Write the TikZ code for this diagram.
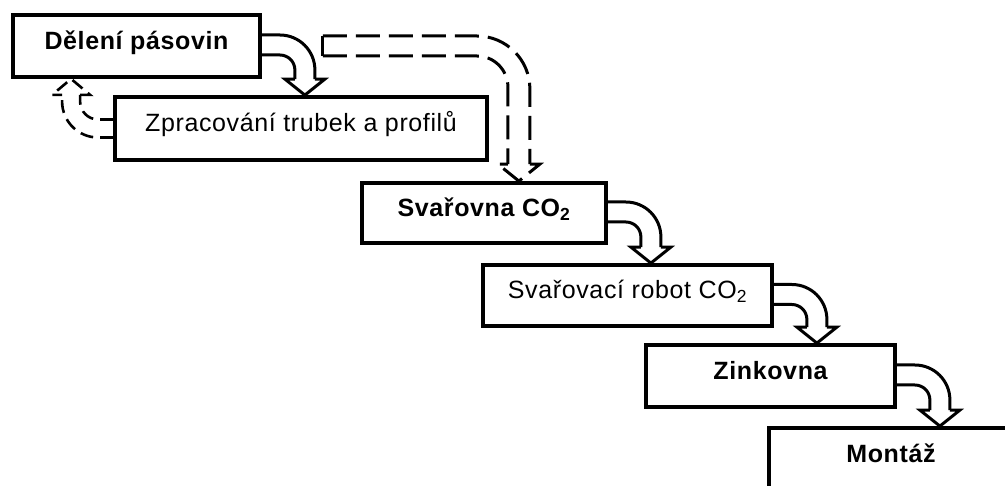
\documentclass[tikz,border=0pt]{standalone}
\usepackage{fontspec}
\newfontfamily\boxfont[LetterSpace=2.5]{Liberation Sans}
\usetikzlibrary{calc}
\newcommand\solidarrow[2]{%
  \coordinate (sa-c) at ($(#1.east)+(43,-1)$);
  \coordinate (sa-t) at (sa-c |- #2.north);
  \coordinate (sa-b) at ($(sa-t)+(0,-16)$);
  \draw[flow,rounded corners=15pt] ($(#1.east)+(0,9)$) -| ($(sa-b)+(-10,0)$);
  \draw[flow,rounded corners=35pt] ($(#1.east)+(0,-11)$) -| ($(sa-b)+(10,0)$);
  \draw[flow] ($(sa-b)+(-10,0)$) -- ($(sa-b)+(-20,0)$) -- (sa-t) -- ($(sa-b)+(20,0)$) -- ($(sa-b)+(10,0)$);
}
\begin{document}
\begin{tikzpicture}[x=1pt,y=-1pt,
  box/.style={draw,line width=3.8pt,inner sep=0pt,
    font=\boxfont\fontsize{25}{28}\selectfont,text height=18pt,text depth=11pt},
  bbox/.style={box,font=\boxfont\bfseries\fontsize{25}{28}\selectfont},
  flow/.style={line width=3pt},
  bigdash/.style={line width=3pt,dash pattern=on 24pt off 9pt},
  smalldash/.style={line width=2.6pt,dash pattern=on 13pt off 7pt}]
\useasboundingbox (0,0) rectangle (1005,486);
\clip (0,0) rectangle (1005,486);
\fill[white] (0,0) rectangle (1005,486);
\node[bbox,minimum width=247pt,minimum height=62pt] (b1) at (136.5,46) {Dělení pásovin};
\node[box,minimum width=372pt,minimum height=63pt] (b2) at (301,128.5) {Zpracování trubek a profilů};
\node[bbox,minimum width=244pt,minimum height=60pt] (b3) at (484,213) {Svařovna CO\textsubscript{2}};
\node[box,minimum width=289pt,minimum height=61pt] (b4) at (627.5,295.5) {Svařovací robot CO\textsubscript{2}};
\node[bbox,minimum width=249pt,minimum height=62pt] (b5) at (770.5,376) {Zinkovna};
\node[bbox,minimum width=244pt,minimum height=62pt] (b6) at (891,459) {Montáž};
\solidarrow{b1}{b2}
\solidarrow{b3}{b4}
\solidarrow{b4}{b5}
\solidarrow{b5}{b6}
% big dashed arrow b1 -> b3
\coordinate (da-s) at ($(b1.east)+(61,0)$);
\coordinate (da-c) at ($(b1.east)+(257,0)$);
\coordinate (da-t) at (da-c |- b3.north);
\coordinate (da-b) at ($(da-t)+(0,-17)$);
\draw[bigdash,rounded corners=53pt] ($(da-s)+(0,-10)$) -| ($(da-b)+(11,0)$);
\draw[bigdash,rounded corners=31pt] ($(da-s)+(0,10)$) -| ($(da-b)+(-11,0)$);
\draw[bigdash] ($(da-b)+(11,0)$) -- ($(da-b)+(21,0)$) -- (da-t) -- ($(da-b)+(-21,0)$) -- ($(da-b)+(-11,0)$);
\draw[flow] ($(da-s)+(0,-10)$) -- ($(da-s)+(0,10)$);
% small dashed arrow b2 -> b1
\coordinate (la-c) at ($(b2.west)+(-42,0)$);
\coordinate (la-t) at (la-c |- b1.south);
\coordinate (la-b) at ($(la-t)+(0,16)$);
\draw[smalldash,rounded corners=18pt] ($(b2.west)+(0,-9)$) -| ($(la-b)+(9,0)$);
\draw[smalldash,rounded corners=36pt] ($(b2.west)+(0,9)$) -| ($(la-b)+(-9,0)$);
\draw[smalldash] ($(la-b)+(9,0)$) -- ($(la-b)+(19,0)$) -- (la-t) -- ($(la-b)+(-19,0)$) -- ($(la-b)+(-9,0)$);
\end{tikzpicture}
\end{document}
